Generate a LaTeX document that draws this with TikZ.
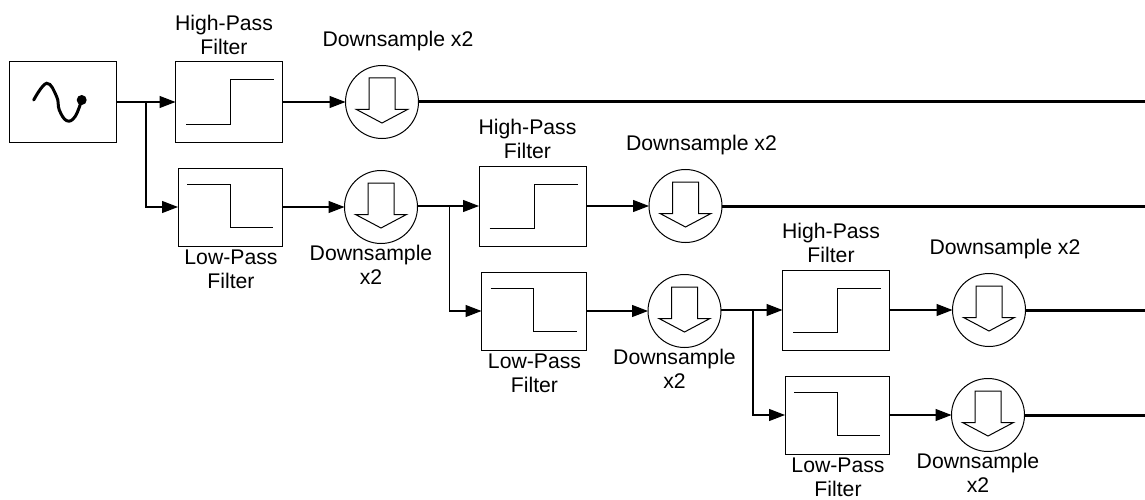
\documentclass[tikz,border=0pt]{standalone}
\usepackage{fontspec}
\setmainfont{Liberation Sans}
\usetikzlibrary{arrows.meta}
\tikzset{my_diagram/.style={x=1pt,y=-1pt,line width=1.2pt,>={Triangle[length=16pt,width=12pt]}}}
\tikzset{my_label/.style={font=\fontsize{21.2}{24.5}\selectfont,align=center,inner sep=0pt}}
\tikzset{high_box/.style={draw,line width=1pt,minimum width=107pt,minimum height=80pt,inner sep=0pt,outer sep=0pt}}
\tikzset{low_box/.style={draw,line width=1pt,minimum width=104.5pt,minimum height=78pt,inner sep=0pt,outer sep=0pt}}
\tikzset{down_circle/.style={draw,circle,line width=1pt,minimum size=73pt,inner sep=0pt,outer sep=0pt}}
\tikzset{output_line/.style={line width=3pt}}
\tikzset{high_step/.pic={\draw[line width=1pt] (-43,22.3) -- (1.5,22.3) -- (1.5,-22) -- (45,-22);}}
\tikzset{low_step/.pic={\draw[line width=1pt] (-43.2,-23) -- (0,-23) -- (0,20) -- (43,20);}}
\tikzset{down_arrow/.pic={\draw[line width=1pt] (-13,-24) -- (13,-24) -- (13,7.5) -- (25.5,7.5) -- (0,21) -- (-25.5,7.5) -- (-13,7.5) -- cycle;}}

\begin{document}
\begin{tikzpicture}[my_diagram]
    \useasboundingbox (0,0) rectangle (1145,500);

    \node[high_box] (source) at (62.5,102) {};
    \draw[line width=3pt,line cap=round] plot[smooth,tension=0.7] coordinates
        {(33.7,100) (46.7,83.3) (56.7,96.7) (59.3,110) (66.7,120.7) (75,116.7) (81.7,100)};
    \fill (81.7,100) circle (5);

    \foreach \s/\dx/\dy/\from in {1/0/0/source, 2/303.5/104/lowdown1, 3/607/208/lowdown2} {
        \begin{scope}[shift={(\dx,\dy)}]
            \node[high_box] (high\s) at (229,102) {};
            \node[low_box] (low\s) at (230.25,207) {};
            \node[down_circle] (highdown\s) at (382,102) {};
            \node[down_circle] (lowdown\s) at (381,207) {};
            \coordinate (split\s) at (146,102);
            \pic at (high\s) {high_step};
            \pic at (low\s) {low_step};
            \pic at (highdown\s) {down_arrow};
            \pic at (lowdown\s) {down_arrow};

            \node[my_label] (highlabel\s) at (224,35) {High-Pass\\Filter};
            \node[my_label] (lowlabel\s) at (231,269.5) {Low-Pass\\Filter};
            \node[my_label] (highdownlabel\s) at (398,41) {Downsample x2};
            \node[my_label] (lowdownlabel\s) at (371,265) {Downsample\\x2};

            \draw[->] (\from.east |- high\s.west) -- (high\s.west);
            \draw[->] (split\s) |- (low\s.west);
            \draw[->] (high\s.east) -- (highdown\s.west);
            \draw[->] (low\s.east) -- (lowdown\s.west);
        \end{scope}
        \coordinate (end\s) at (1145,102+\dy);
        \draw[output_line] (highdown\s.east) -- (end\s);
    }
    \coordinate (end4) at (1145,415);
    \draw[output_line] (lowdown3.east) -- (end4);
\end{tikzpicture}
\end{document}
